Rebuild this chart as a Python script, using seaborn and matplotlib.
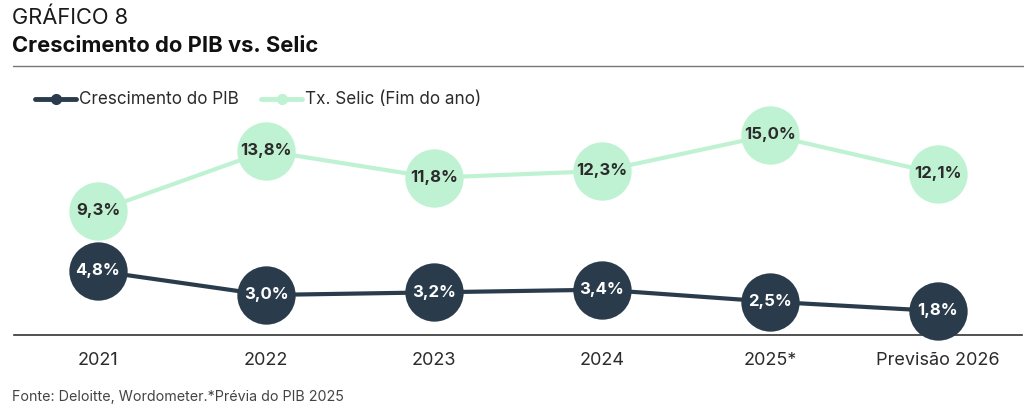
import matplotlib
matplotlib.use("Agg")
import matplotlib.pyplot as plt
from matplotlib.lines import Line2D
import seaborn as sns
import pandas as pd

categories = ["2021", "2022", "2023", "2024", "2025*", "Previsão 2026"]
pib = [4.8, 3.0, 3.2, 3.4, 2.5, 1.8]
selic = [9.3, 13.8, 11.8, 12.3, 15.0, 12.1]
series_names = ["Crescimento do PIB", "Tx. Selic (Fim do ano)"]

DARK = "#2a3c4b"
GREEN = "#bff2d2"
TEXT = "#2b2b2b"

sns.set_theme(style="white")
plt.rcParams["font.family"] = ["Inter", "DejaVu Sans"]

df = pd.DataFrame({
    "cat": categories * 2,
    "x": list(range(len(categories))) * 2,
    "val": pib + selic,
    "serie": [series_names[0]] * len(pib) + [series_names[1]] * len(selic),
})

fig = plt.figure(figsize=(10.24, 4.15), dpi=100)
ax = fig.add_axes([14 / 1024, 80 / 415, 1008 / 1024, 220 / 415])

sns.lineplot(data=df, x="x", y="val", hue="serie",
             palette={series_names[0]: DARK, series_names[1]: GREEN},
             hue_order=[series_names[1], series_names[0]],
             linewidth=3, marker="o", markersize=42, markeredgewidth=0,
             legend=False, ax=ax, clip_on=False, zorder=3)

for i, v in enumerate(pib):
    ax.text(i, v, f"{v:.1f}%".replace(".", ","), ha="center", va="center",
            color="white", fontsize=12, fontweight="bold", zorder=5)
for i, v in enumerate(selic):
    ax.text(i, v, f"{v:.1f}%".replace(".", ","), ha="center", va="center",
            color=TEXT, fontsize=12, fontweight="bold", zorder=5)

ax.set_xlim(-0.5, len(categories) - 0.5)
ax.set_ylim(0, 16.5)
ax.set_xticks(range(len(categories)))
ax.set_xticklabels(categories, fontsize=13, color=TEXT)
ax.tick_params(axis="x", length=0, pad=12)
ax.set_yticks([])
ax.set_xlabel("")
ax.set_ylabel("")
for s in ["top", "right", "left"]:
    ax.spines[s].set_visible(False)
ax.spines["bottom"].set_color("#333333")
ax.spines["bottom"].set_linewidth(1.2)

# header
fig.text(12 / 1024, 1 - 18 / 415, "GRÁFICO 8", fontsize=15.8, color="#1a1a1a",
         va="center", ha="left")
fig.text(12 / 1024, 1 - 46 / 415, "Crescimento do PIB vs. Selic", fontsize=15.8,
         fontweight="bold", color="#111111", va="center", ha="left")
fig.add_artist(Line2D([13 / 1024, 1.0], [1 - 66 / 415, 1 - 66 / 415],
                      color="#777777", linewidth=1.0, transform=fig.transFigure))

handles = [Line2D([0], [0], color=DARK, linewidth=3.5, marker="o", markersize=7),
           Line2D([0], [0], color=GREEN, linewidth=3.5, marker="o", markersize=7)]
fig.legend(handles, series_names, loc="center left",
           bbox_to_anchor=(20 / 1024, 1 - 100 / 415), ncol=2, frameon=False,
           fontsize=12.3, handlelength=2.4, handletextpad=0.15, columnspacing=1.3,
           labelcolor="#2b2b2b")

fig.text(12 / 1024, 1 - 397 / 415, "Fonte: Deloitte, Wordometer.*Prévia do PIB 2025",
         fontsize=10.3, color="#444444", va="center", ha="left")

fig.savefig("out.png", dpi=100, facecolor="white")
